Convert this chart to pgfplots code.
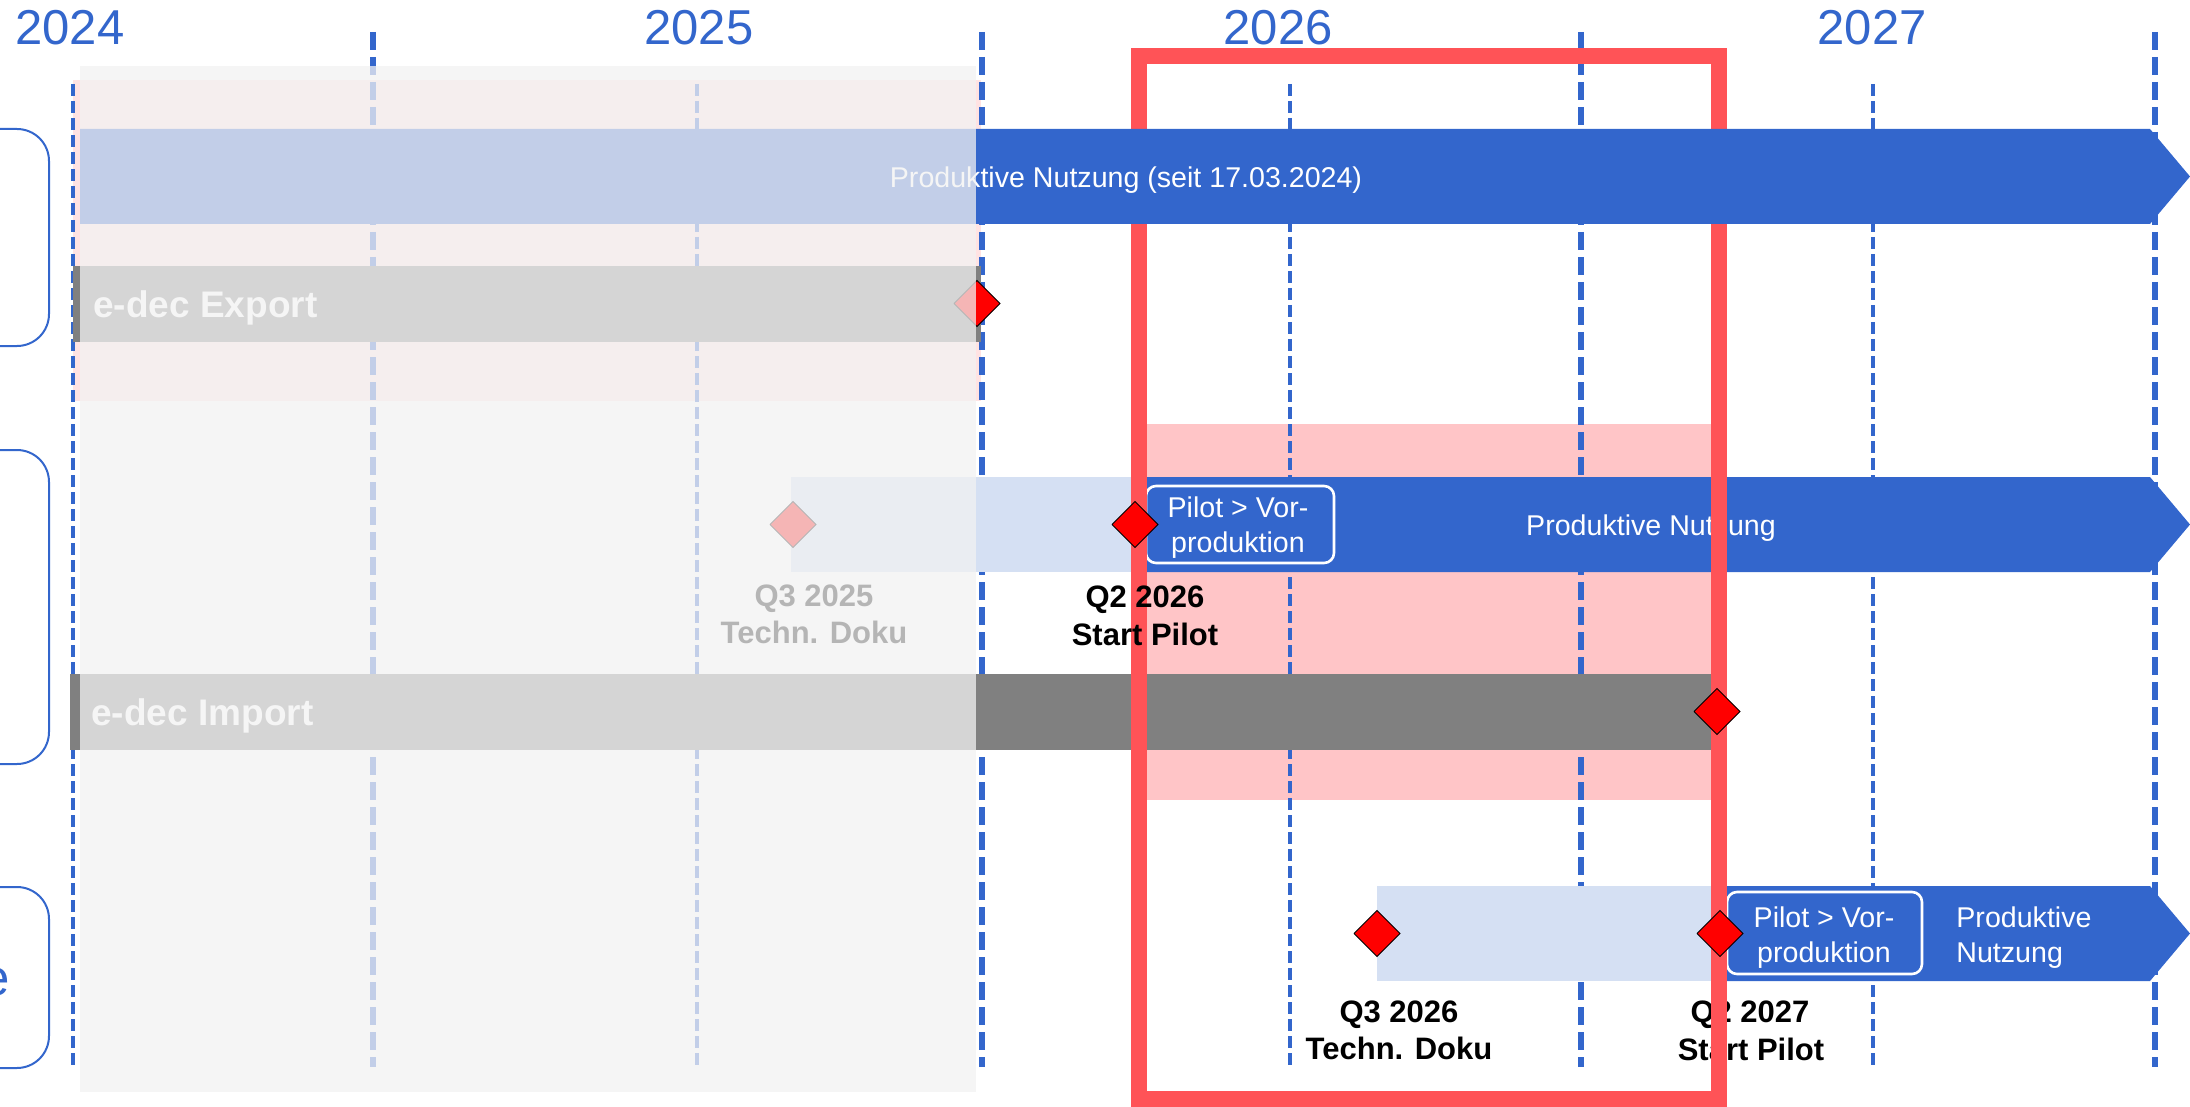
\documentclass[border=0pt]{standalone}
\usepackage{fontspec}
\setmainfont{Liberation Sans}
\usepackage{pgfplots}
\pgfplotsset{compat=1.18}
\definecolor{cblue}{HTML}{3366CC}
\definecolor{clight}{HTML}{D5E0F3}
\definecolor{cgrey}{HTML}{808080}
\definecolor{cpink}{HTML}{FFC5C7}
\definecolor{ctoppink}{HTML}{FFE3E3}
\definecolor{cframe}{HTML}{FF5357}
\definecolor{covl}{HTML}{F2F2F2}
\definecolor{cdia}{HTML}{FF0000}
\tikzset{
  thickline/.style={draw=cblue, line width=3pt, dash pattern=on 9pt off 3.5pt},
  thinline/.style={draw=cblue, line width=2pt, dash pattern=on 6pt off 2.5pt},
  dia/.style={fill=cdia, draw=black, line width=0.5pt, line join=miter},
  yr/.style={font=\fontsize{24.5}{29}\selectfont, text=cblue, anchor=base, inner sep=0pt},
  wt/.style={font=\fontsize{14.3}{17}\selectfont, text=white, anchor=base, inner sep=0pt},
  lab/.style={font=\fontsize{15.5}{18}\selectfont\bfseries, text=black, anchor=base, inner sep=0pt},
  ed/.style={font=\fontsize{18.5}{22}\selectfont\bfseries, text=white, anchor=base west, inner sep=0pt},
}
\begin{document}
\begin{tikzpicture}
\begin{axis}[name=main, width=1095pt, height=553.5pt, scale only axis,
  xmin=0, xmax=2190, ymin=0, ymax=1107, y dir=reverse, hide axis, clip=true]
% highlighted regions
\addplot[fill=ctoppink, draw=none] coordinates {(73,80)(981,80)(981,401)(73,401)};
\addplot[fill=cpink, draw=none] coordinates {(1140,424)(1720,424)(1720,800)(1140,800)};

% vertical dashed lines (half years / years)
\addplot[thinline]  coordinates {(73,84)(73,1067)};
\addplot[thickline] coordinates {(373,32)(373,1067)};
\addplot[thinline]  coordinates {(697,84)(697,1067)};
\addplot[thickline] coordinates {(982,32)(982,1067)};
\addplot[thinline]  coordinates {(1290,84)(1290,1067)};
\addplot[thickline] coordinates {(1581,32)(1581,1067)};
\addplot[thinline]  coordinates {(1873,84)(1873,1067)};
\addplot[thickline] coordinates {(2155,32)(2155,1067)};

% left brackets
\addplot[draw=cblue, line width=1pt, rounded corners=16pt] coordinates {(-80,129)(49,129)(49,346)(-80,346)};
\addplot[draw=cblue, line width=1pt, rounded corners=16pt] coordinates {(-80,450)(49,450)(49,764)(-80,764)};
\addplot[draw=cblue, line width=1pt, rounded corners=16pt] coordinates {(-80,887)(49,887)(49,1068)(-80,1068)};
\node[font=\fontsize{25.5}{30}\selectfont, text=cblue, anchor=base east, inner sep=0pt] at (axis cs:10,995) {e};

% year labels
\node[yr, anchor=base west] at (axis cs:15,45) {2024};
\node[yr] at (axis cs:699,45) {2025};
\node[yr] at (axis cs:1278,45) {2026};
\node[yr] at (axis cs:1872,45) {2027};

% row 1 (export bar)
\addplot[fill=cgrey, draw=none] coordinates {(73,266)(981,266)(981,342)(73,342)};
\node[ed] at (axis cs:93,318) {e-dec Export};
\addplot[dia] coordinates {(954,303.5)(977,280.5)(1000,303.5)(977,326.5)(954,303.5)};

% row 2
\addplot[fill=clight, draw=none] coordinates {(791,477)(1146,477)(1146,572)(791,572)};
\addplot[fill=cblue, draw=none] coordinates {(1146,477)(2150,477)(2190,524.5)(2150,572)(1146,572)};
\addplot[draw=white, line width=1.3pt, rounded corners=5pt] coordinates {(1240,486)(1334,486)(1334,563)(1146,563)(1146,486)(1240,486)};
\node[wt] at (axis cs:1238,517) {Pilot > Vor-};
\node[wt] at (axis cs:1238,552) {produktion};
\node[wt] at (axis cs:1651,535) {Produktive Nutzung};
\addplot[dia] coordinates {(770,524.5)(793,501.5)(816,524.5)(793,547.5)(770,524.5)};
\node[lab] at (axis cs:814,606) {Q3 2025};
\node[lab] at (axis cs:814,643) {Techn. Doku};
\addplot[fill=cgrey, draw=none] coordinates {(70,674)(1712,674)(1712,750)(70,750)};
\node[ed] at (axis cs:91,725) {e-dec Import};

% row 3
\addplot[fill=clight, draw=none] coordinates {(1377,886)(1720,886)(1720,981)(1377,981)};
\addplot[fill=cblue, draw=none] coordinates {(1720,886)(2150,886)(2190,933.5)(2150,981)(1720,981)};
\addplot[draw=white, line width=1.3pt, rounded corners=5pt] coordinates {(1825,892)(1922,892)(1922,974)(1727,974)(1727,892)(1825,892)};
\node[wt] at (axis cs:1824,927) {Pilot > Vor-};
\node[wt] at (axis cs:1824,962) {produktion};
\node[wt, anchor=base west] at (axis cs:1956,927) {Produktive};
\node[wt, anchor=base west] at (axis cs:1956,962) {Nutzung};
\node[lab] at (axis cs:1399,1022) {Q3 2026};
\node[lab] at (axis cs:1399,1059) {Techn. Doku};
\node[lab] at (axis cs:1750,1022) {Q2 2027};
\node[lab] at (axis cs:1751,1060) {Start Pilot};

% focus frame
\addplot[draw=cframe, line width=8pt, line join=miter] coordinates {(1429,56)(1719,56)(1719,1099)(1139,1099)(1139,56)(1429,56)};

% row 1 main bar (above the frame)
\addplot[fill=cblue, draw=none] coordinates {(80,129)(2150,129)(2190,176.5)(2150,224)(80,224)};
\node[wt] at (axis cs:1126,188) {Produktive Nutzung (seit 17.03.2024)};

% past overlay
\addplot[fill=covl, fill opacity=0.75, draw=none] coordinates {(80,66)(976,66)(976,1092)(80,1092)};

% labels and milestones on top
\node[lab] at (axis cs:1145,607) {Q2 2026};
\node[lab] at (axis cs:1145,645) {Start Pilot};
\addplot[dia] coordinates {(1112,524.5)(1135,501.5)(1158,524.5)(1135,547.5)(1112,524.5)};
\addplot[dia] coordinates {(1694,711.5)(1717,688.5)(1740,711.5)(1717,734.5)(1694,711.5)};
\addplot[dia] coordinates {(1354,933.5)(1377,910.5)(1400,933.5)(1377,956.5)(1354,933.5)};
\addplot[dia] coordinates {(1697,933.5)(1720,910.5)(1743,933.5)(1720,956.5)(1697,933.5)};
\end{axis}
\pgfresetboundingbox
\useasboundingbox (main.south west) rectangle (main.north east);
\end{tikzpicture}
\end{document}
